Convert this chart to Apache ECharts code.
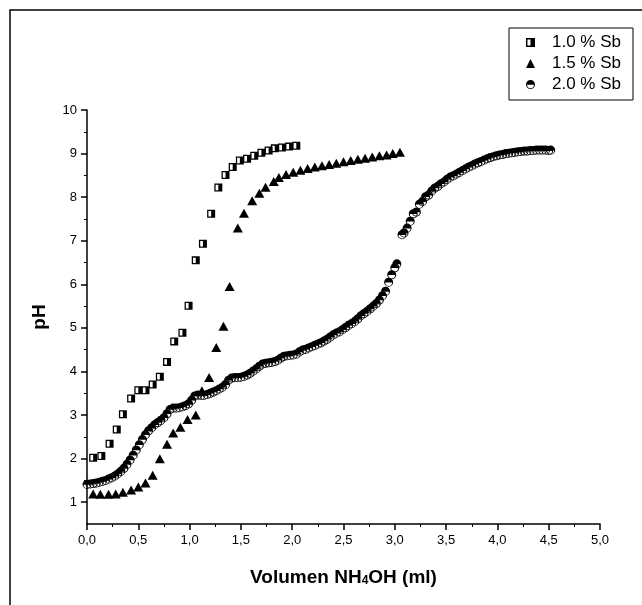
<!doctype html>
<html lang="es">
<head>
    <meta charset="utf-8">
    <title>pH vs Volumen NH4OH</title>
    <script src="https://cdn.jsdelivr.net/npm/echarts@6/dist/echarts.min.js"></script>
    <style>
        html, body { margin: 0; padding: 0; background: #fff; }
        #main { width: 642px; height: 605px; }
    </style>
</head>
<body>
<div id="main"></div>
<script>
    // datos
    const seriesNames = ['1.0 % Sb', '1.5 % Sb', '2.0 % Sb'];

    const sb10X = [0.06, 0.14, 0.22, 0.29, 0.35, 0.43, 0.50, 0.57, 0.64, 0.71, 0.78, 0.85, 0.93, 0.99, 1.06,
        1.13, 1.21, 1.28, 1.35, 1.42, 1.49, 1.56, 1.63, 1.70, 1.77, 1.83, 1.90, 1.97, 2.04];
    const sb10Y = [2.02, 2.06, 2.34, 2.67, 3.02, 3.38, 3.57, 3.57, 3.70, 3.88, 4.22, 4.69, 4.89, 5.51, 6.55,
        6.93, 7.62, 8.22, 8.51, 8.69, 8.84, 8.88, 8.95, 9.02, 9.07, 9.12, 9.14, 9.16, 9.18];

    const sb15X = [0.06, 0.13, 0.21, 0.28, 0.35, 0.43, 0.50, 0.57, 0.64, 0.71, 0.78, 0.84, 0.91, 0.98, 1.06,
        1.12, 1.19, 1.26, 1.33, 1.39, 1.47, 1.53, 1.61, 1.68, 1.74, 1.82, 1.87, 1.94, 2.01, 2.08, 2.15,
        2.22, 2.29, 2.36, 2.43, 2.50, 2.57, 2.64, 2.71, 2.78, 2.85, 2.92, 2.98, 3.05];
    const sb15Y = [1.19, 1.18, 1.18, 1.19, 1.23, 1.28, 1.35, 1.44, 1.62, 2.00, 2.33, 2.59, 2.72, 2.90, 3.00,
        3.56, 3.86, 4.55, 5.04, 5.95, 7.29, 7.63, 7.92, 8.09, 8.23, 8.36, 8.45, 8.52, 8.57, 8.62, 8.66,
        8.69, 8.72, 8.75, 8.78, 8.81, 8.84, 8.87, 8.89, 8.92, 8.95, 8.97, 9.00, 9.03];

    const sb20X = [0.00, 0.03, 0.06, 0.09, 0.12, 0.15, 0.18, 0.21, 0.24, 0.27, 0.30, 0.33, 0.36, 0.39, 0.42,
        0.45, 0.48, 0.51, 0.54, 0.57, 0.60, 0.63, 0.66, 0.69, 0.72, 0.75, 0.78, 0.81, 0.84, 0.87,
        0.90, 0.93, 0.96, 0.99, 1.02, 1.05, 1.08, 1.11, 1.14, 1.17, 1.20, 1.23, 1.26, 1.29, 1.32,
        1.35, 1.38, 1.41, 1.44, 1.47, 1.50, 1.53, 1.56, 1.59, 1.62, 1.65, 1.68, 1.71, 1.74, 1.77,
        1.80, 1.83, 1.86, 1.89, 1.92, 1.95, 1.98, 2.01, 2.04, 2.07, 2.10, 2.13, 2.16, 2.19, 2.22,
        2.25, 2.28, 2.31, 2.34, 2.37, 2.40, 2.43, 2.46, 2.49, 2.52, 2.55, 2.58, 2.61, 2.64, 2.67,
        2.70, 2.73, 2.76, 2.79, 2.82, 2.85, 2.88, 2.91, 2.94, 2.97, 3.00, 3.02, 3.07, 3.09, 3.12,
        3.15, 3.18, 3.21, 3.24, 3.27, 3.30, 3.33, 3.36, 3.39, 3.42, 3.45, 3.48, 3.51, 3.54, 3.57,
        3.60, 3.63, 3.66, 3.69, 3.72, 3.75, 3.78, 3.81, 3.84, 3.87, 3.90, 3.93, 3.96, 3.99, 4.02,
        4.05, 4.08, 4.11, 4.14, 4.17, 4.20, 4.23, 4.26, 4.29, 4.32, 4.35, 4.38, 4.41, 4.44, 4.47,
        4.50, 4.52];
    const sb20Y = [1.41, 1.42, 1.43, 1.44, 1.46, 1.48, 1.50, 1.53, 1.56, 1.60, 1.65, 1.71, 1.78, 1.87, 1.97,
        2.08, 2.20, 2.32, 2.44, 2.55, 2.64, 2.71, 2.78, 2.83, 2.88, 2.94, 3.03, 3.13, 3.16, 3.16,
        3.17, 3.19, 3.22, 3.26, 3.34, 3.44, 3.46, 3.45, 3.45, 3.47, 3.50, 3.53, 3.56, 3.60, 3.64,
        3.70, 3.80, 3.85, 3.86, 3.86, 3.87, 3.89, 3.92, 3.96, 4.01, 4.06, 4.12, 4.17, 4.19, 4.20,
        4.21, 4.23, 4.26, 4.31, 4.35, 4.36, 4.37, 4.38, 4.40, 4.45, 4.49, 4.51, 4.54, 4.57, 4.60,
        4.63, 4.66, 4.70, 4.74, 4.79, 4.84, 4.88, 4.91, 4.96, 5.01, 5.06, 5.10, 5.15, 5.21, 5.28,
        5.33, 5.38, 5.44, 5.50, 5.56, 5.64, 5.74, 5.84, 6.05, 6.22, 6.38, 6.47, 7.14, 7.18, 7.29,
        7.45, 7.62, 7.66, 7.84, 7.90, 8.01, 8.05, 8.14, 8.21, 8.25, 8.31, 8.35, 8.41, 8.46, 8.49,
        8.53, 8.57, 8.61, 8.65, 8.69, 8.72, 8.76, 8.79, 8.82, 8.85, 8.88, 8.91, 8.93, 8.95, 8.97,
        8.98, 9.00, 9.01, 9.02, 9.03, 9.04, 9.05, 9.06, 9.06, 9.07, 9.07, 9.08, 9.08, 9.08, 9.08,
        9.07, 9.08];

    const yTicks = [1, 2, 3, 4, 5, 6, 7, 8, 9, 10];
    const yMinorTicks = [1.5, 2.5, 3.5, 4.5, 5.5, 6.5, 7.5, 8.5, 9.5];

    // simbolos medio rellenos
    const halfSquare = 'path://M0,0L10,0L10,10L0,10Z M1.6,1.6L1.6,8.4L5,8.4L5,1.6Z';
    const halfCircle = 'path://M0,5A5,5,0,1,1,10,5A5,5,0,1,1,0,5Z M1.2,5.4A3.8,3.8,0,0,0,8.8,5.4Z';

    const zip = (xs, ys) => xs.map((x, i) => [x, ys[i]]);
    const font = '"Liberation Sans", Arial, sans-serif';

    const chart = echarts.init(document.getElementById('main'));

    const option = {
        animation: false,
        backgroundColor: '#fff',
        textStyle: {fontFamily: font, color: '#000'},
        grid: {left: 87, right: 42, top: 110, bottom: 81},
        legend: {
            orient: 'vertical',
            left: 509,
            top: 28,
            width: 130,
            padding: [6, 12, 7, 17],
            itemGap: 4,
            itemWidth: 9,
            itemHeight: 9,
            borderColor: '#000',
            borderWidth: 1,
            textStyle: {fontFamily: font, fontSize: 17, color: '#000', padding: [0, 0, 0, 12]},
            data: seriesNames
        },
        xAxis: {
            type: 'value',
            min: 0,
            max: 5,
            interval: 0.5,
            name: 'Volumen NH{sub|4}OH (ml)',
            nameLocation: 'middle',
            nameGap: 44,
            nameTextStyle: {
                fontFamily: font, fontSize: 19, fontWeight: 'bold', color: '#000',
                rich: {sub: {fontFamily: font, fontSize: 12, fontWeight: 'bold', color: '#000', verticalAlign: 'bottom', padding: [6, 0, 0, 0]}}
            },
            axisLine: {lineStyle: {color: '#000', width: 1.5}},
            axisTick: {length: 6, lineStyle: {color: '#000', width: 1.5}},
            minorTick: {show: true, splitNumber: 2, length: 3, lineStyle: {color: '#000', width: 1}},
            splitLine: {show: false},
            axisLabel: {
                fontFamily: font, fontSize: 13, color: '#000', margin: 10,
                formatter: v => v.toFixed(1).replace('.', ',')
            }
        },
        yAxis: [
            {
                type: 'value',
                min: 0.5,
                max: 10,
                interval: 0.5,
                name: 'pH',
                nameLocation: 'middle',
                nameRotate: 90,
                nameGap: 38,
                nameTextStyle: {fontFamily: font, fontSize: 19, fontWeight: 'bold', color: '#000'},
                axisLine: {show: true, lineStyle: {color: '#000', width: 1.5}},
                axisTick: {show: true, length: 6, customValues: yTicks, lineStyle: {color: '#000', width: 1.5}},
                splitLine: {show: false},
                axisLabel: {fontFamily: font, fontSize: 13, color: '#000', margin: 10, customValues: yTicks}
            },
            {
                type: 'value',
                min: 0.5,
                max: 10,
                interval: 0.5,
                position: 'left',
                axisLine: {show: false},
                axisTick: {show: true, length: 3, customValues: yMinorTicks, lineStyle: {color: '#000', width: 1}},
                splitLine: {show: false},
                axisLabel: {show: false}
            }
        ],
        graphic: [
            {
                type: 'polyline',
                silent: true,
                shape: {points: [[10, 605], [10, 10], [642, 10]]},
                style: {stroke: '#000', lineWidth: 1.5, fill: null}
            }
        ],
        series: [
            {
                name: seriesNames[0],
                type: 'scatter',
                symbol: halfSquare,
                symbolSize: 8,
                itemStyle: {color: '#000', opacity: 1},
                data: zip(sb10X, sb10Y)
            },
            {
                name: seriesNames[1],
                type: 'scatter',
                symbol: 'triangle',
                symbolSize: [10, 9],
                itemStyle: {color: '#000', opacity: 1},
                data: zip(sb15X, sb15Y)
            },
            {
                name: seriesNames[2],
                type: 'scatter',
                symbol: halfCircle,
                symbolSize: 9,
                itemStyle: {color: '#000', opacity: 1},
                data: zip(sb20X, sb20Y)
            }
        ]
    };

    chart.setOption(option);
</script>
</body>
</html>
